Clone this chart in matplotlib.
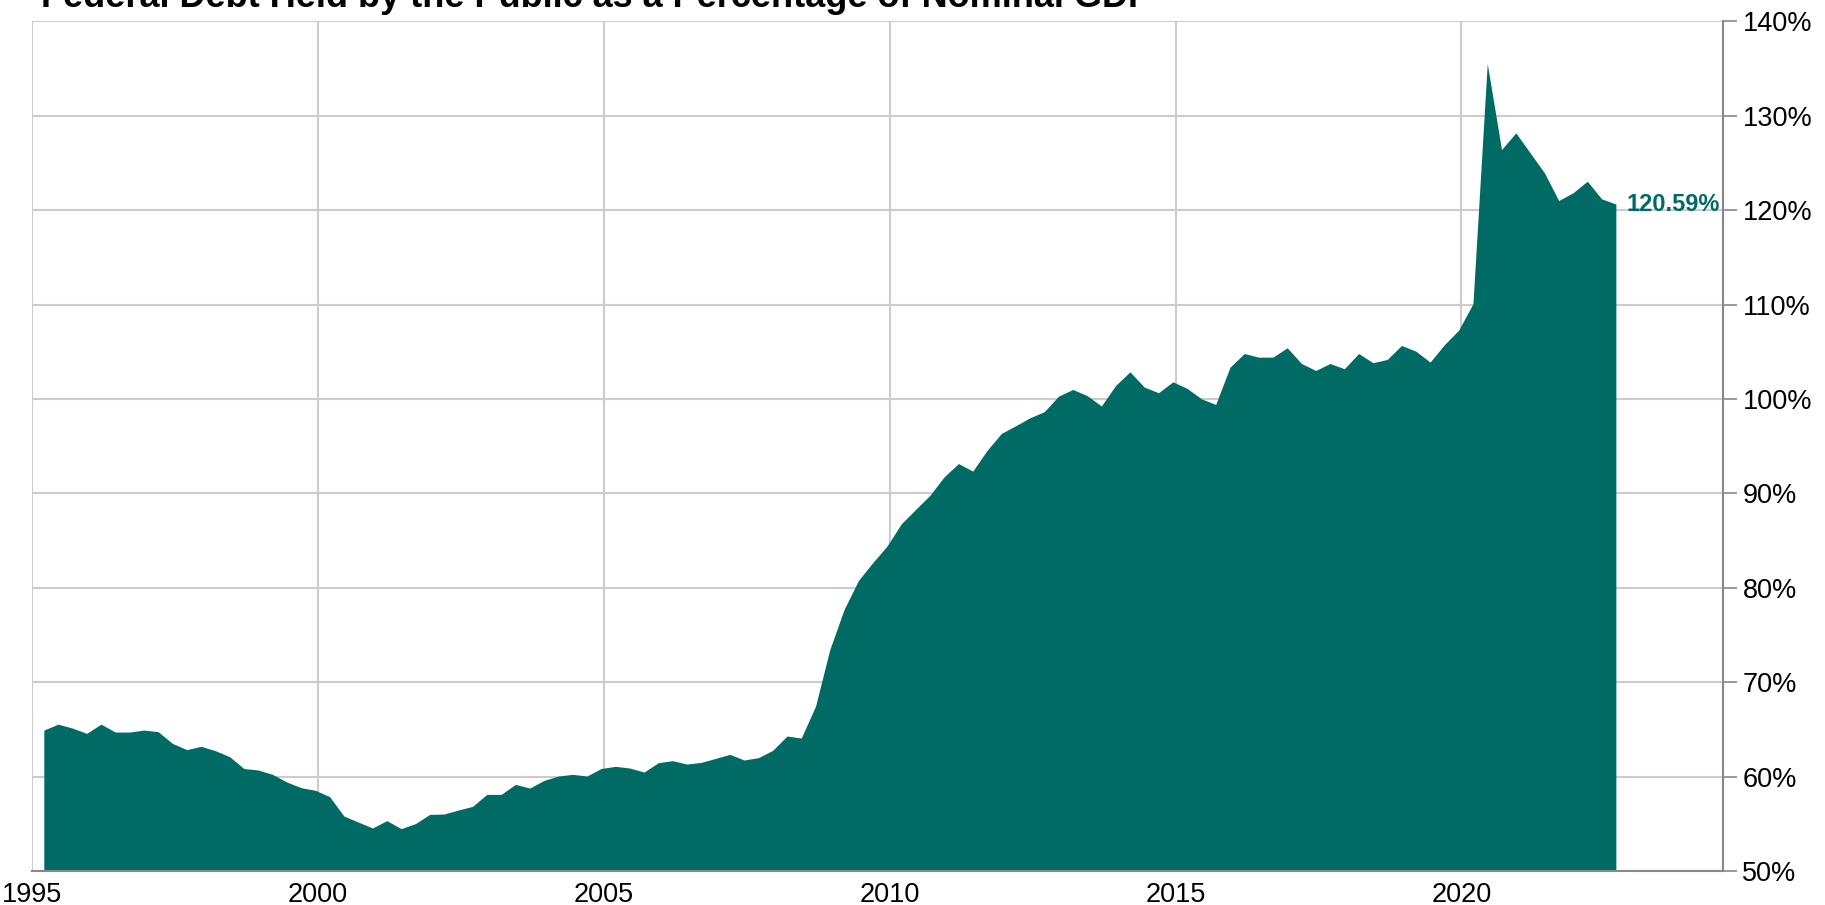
import matplotlib
matplotlib.use("Agg")
import matplotlib.pyplot as plt
import numpy as np

plt.rcParams['font.family'] = ['Liberation Sans', 'DejaVu Sans']

# quarterly debt / GDP ratio (%), 1995Q1 .. 2022Q3
first_year = 1995
debt_pct = [
    64.87, 65.50, 65.08, 64.52, 65.50, 64.66, 64.66, 64.87, 64.70, 63.46,
    62.80, 63.15, 62.69, 62.05, 60.80, 60.64, 60.18, 59.37, 58.77, 58.49,
    57.82, 55.76, 55.13, 54.50, 55.28, 54.43, 54.96, 55.94, 55.98, 56.40,
    56.79, 58.06, 58.06, 59.12, 58.73, 59.54, 60.00, 60.18, 60.00, 60.80,
    61.03, 60.85, 60.42, 61.42, 61.63, 61.27, 61.45, 61.87, 62.30, 61.70,
    61.95, 62.72, 64.24, 64.03, 67.41, 73.42, 77.66, 80.72, 82.60, 84.36,
    86.72, 88.24, 89.73, 91.70, 93.10, 92.30, 94.49, 96.29, 97.10, 97.95,
    98.59, 100.24, 100.95, 100.30, 99.20, 101.38, 102.82, 101.20, 100.60, 101.76,
    101.06, 99.96, 99.36, 103.31, 104.76, 104.37, 104.37, 105.36, 103.70, 102.96,
    103.70, 103.14, 104.76, 103.78, 104.13, 105.61, 105.01, 103.85, 105.69, 107.23,
    110.03, 135.47, 126.36, 128.13, 126.01, 123.90, 120.96, 121.78, 123.01, 121.14,
    120.59,
]
year_ticks = [1995, 2000, 2005, 2010, 2015, 2020]
pct_ticks = [50, 60, 70, 80, 90, 100, 110, 120, 130, 140]

teal = '#006b64'
x = first_year + 0.21 + 0.25 * np.arange(len(debt_pct))
y = np.array(debt_pct)

fig = plt.figure(figsize=(18.25, 9.05), dpi=100)
ax = fig.add_axes([0.0177, 0.0376, 0.9441 - 0.0177, 0.9765 - 0.0376])

ax.fill_between(x, y, 0, color=teal, linewidth=0, zorder=2)

ax.set_xlim(1995.045, 2024.575)
ax.set_ylim(50, 140)
ax.set_xticks(year_ticks)
ax.set_xticklabels([str(t) for t in year_ticks], fontsize=19.5)
ax.set_yticks(pct_ticks)
ax.set_yticklabels([f'{t}%' for t in pct_ticks], fontsize=19.5)

ax.yaxis.tick_right()
ax.tick_params(axis='y', length=10, width=1.2, color='#888888', pad=4)
ax.tick_params(axis='x', length=0, pad=8)

ax.set_axisbelow(True)
ax.grid(True, color='#cccccc', linewidth=1.5)

for side in ['top', 'left']:
    ax.spines[side].set_visible(False)
for side in ['right', 'bottom']:
    ax.spines[side].set_color('#888888')
    ax.spines[side].set_linewidth(1.5)

ax.annotate(f'{debt_pct[-1]:.2f}%', xy=(x[-1], y[-1]), xytext=(7, 0),
            textcoords='offset points', ha='left', va='center',
            fontsize=17, fontweight='bold', color=teal)

fig.text(41 / 1825, 1 - 7 / 905, 'Federal Debt Held by the Public as a Percentage of Nominal GDP',
         fontsize=26, fontweight='bold', ha='left', va='baseline')

fig.savefig('out.png', dpi=100)
